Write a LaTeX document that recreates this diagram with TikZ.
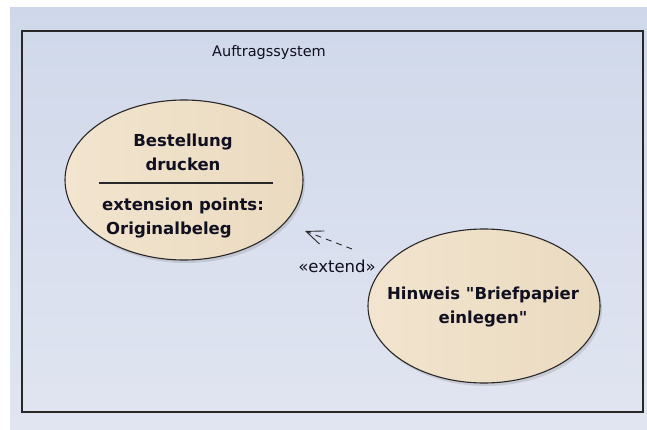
\documentclass[tikz,border=0pt]{standalone}
\usepackage{fontspec}
\setmainfont{DejaVu Sans}[Ligatures=TeXOff]
\usetikzlibrary{shapes.geometric,arrows.meta,shadows}
\definecolor{bgTop}{RGB}{207,216,234}
\definecolor{bgBottom}{RGB}{225,229,241}
\definecolor{useLeft}{RGB}{242,228,206}
\definecolor{useMid}{RGB}{251,243,230}
\definecolor{useRight}{RGB}{234,218,192}
\definecolor{useLine}{RGB}{40,40,40}
\definecolor{txt}{RGB}{16,16,32}

\begin{document}
\begin{tikzpicture}[x=1pt, y=-1pt,
  usecase/.style={ellipse, draw=useLine, line width=1.1pt, inner sep=0pt,
    left color=useLeft, middle color=useMid, right color=useRight,
    drop shadow={shadow xshift=2pt, shadow yshift=-3pt, opacity=0.25}},
  ucfont/.style={font=\fontsize{16.5}{24}\selectfont\bfseries, text=txt, inner sep=0pt},
  extendline/.style={line width=0.9pt, dash pattern=on 6pt off 5pt,
    -{Straight Barb[length=17pt, width=14pt, line width=0.9pt]}}]
  \useasboundingbox (0,0) rectangle (647,430);

  % Background and system boundary
  \fill[white] (0,0) rectangle (647,430);
  \shade[top color=bgTop, bottom color=bgBottom] (10,8) rectangle (647,430);
  \draw[useLine, line width=1.6pt] (22,31) rectangle (643,412);
  \node[font=\fontsize{14.5}{17}\selectfont, text=txt] (sysname) at (269,53) {Auftragssystem};

  % Use case with extension point
  \node[usecase, minimum width=238, minimum height=160] (drucken) at (184,180) {};
  \node[ucfont, align=center] (druckenLbl) at (183,152) {Bestellung\\drucken};
  \draw[useLine, line width=1.1pt] (99,183) -- (273,183);
  \node[ucfont, anchor=base] (extpoints) at (183,211) {extension points:};
  \node[ucfont, anchor=base west] (origbeleg) at (106,234) {Originalbeleg};

  % Extending use case
  \node[usecase, minimum width=232, minimum height=154] (hinweis) at (484,306) {};
  \node[ucfont, align=center] (hinweisLbl) at (483,307) {Hinweis "Briefpapier\\einlegen"};

  % Extend relation
  \coordinate (extTail) at (352,249);
  \coordinate (extTip) at (305,231);
  \draw[extendline, useLine] (extTail) -- (extTip);
  \node[font=\fontsize{16.5}{19}\selectfont, text=txt, inner sep=1pt] (extLbl) at (337,266) {«extend»};
\end{tikzpicture}
\end{document}
